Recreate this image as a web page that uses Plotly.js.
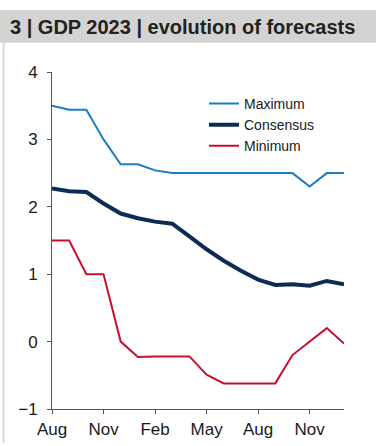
<!DOCTYPE html>
<html>
<head>
<meta charset="utf-8">
<script src="https://cdn.plot.ly/plotly-3.0.1.min.js"></script>
<style>
  html, body { margin: 0; padding: 0; background: #ffffff; }
  #chart { width: 377px; height: 446px; }
</style>
</head>
<body>
<div id="chart"></div>
<script>
// Monthly survey dates, Aug 2022 to Jan 2024
const months = ["Aug 22","Sep 22","Oct 22","Nov 22","Dec 22","Jan 23","Feb 23","Mar 23","Apr 23",
                "May 23","Jun 23","Jul 23","Aug 23","Sep 23","Oct 23","Nov 23","Dec 23","Jan 24"];

// GDP 2023 forecasts, % y/y
const maximum   = [3.5, 3.44, 3.44, 3.0, 2.63, 2.63, 2.54, 2.5, 2.5, 2.5, 2.5, 2.5, 2.5, 2.5, 2.5, 2.3, 2.5, 2.5];
const consensus = [2.27, 2.23, 2.22, 2.05, 1.9, 1.83, 1.78, 1.75, 1.56, 1.37, 1.2, 1.05, 0.92, 0.84, 0.85, 0.83, 0.9, 0.85];
const minimum   = [1.5, 1.5, 1.0, 1.0, 0.0, -0.23, -0.22, -0.22, -0.22, -0.49, -0.62, -0.62, -0.62, -0.62, -0.2, 0.0, 0.2, -0.03];

// Quarterly tick labels
const tickMonths = ["Aug 22","Nov 22","Feb 23","May 23","Aug 23","Nov 23"];
const tickLabels = ["Aug","Nov","Feb","May","Aug","Nov"];

const FONT = "Liberation Sans, Arial, sans-serif";

const traces = [
  { x: months, y: maximum,   name: "Maximum",   type: "scatter", mode: "lines",
    line: { color: "#1a7dc6", width: 2 } },
  { x: months, y: consensus, name: "Consensus", type: "scatter", mode: "lines",
    line: { color: "#0b2d55", width: 4 } },
  { x: months, y: minimum,   name: "Minimum",   type: "scatter", mode: "lines",
    line: { color: "#c8102e", width: 2 } }
];

const layout = {
  width: 377, height: 446,
  margin: { l: 52, r: 33, t: 72, b: 37 },
  paper_bgcolor: "#ffffff",
  plot_bgcolor: "#ffffff",
  font: { family: FONT, size: 17, color: "#1a1a1a" },
  showlegend: true,
  title: {
    text: "<b>3 | GDP 2023 | evolution of forecasts</b>",
    font: { family: FONT, size: 20, color: "#222222" },
    xref: "container", yref: "container",
    x: 10 / 377, xanchor: "left",
    y: 1 - 26.5 / 446, yanchor: "middle"
  },
  legend: {
    x: 0.5205, xanchor: "left",
    y: 0.953, yanchor: "top",
    bgcolor: "rgba(0,0,0,0)",
    font: { family: FONT, size: 14, color: "#1a1a1a" },
    tracegroupgap: 0
  },
  xaxis: {
    type: "category",
    range: [0, months.length - 1],
    tickvals: tickMonths,
    ticktext: tickLabels,
    ticks: "outside", ticklen: 4, tickcolor: "#555555",
    ticklabelstandoff: 1,
    showline: true, linecolor: "#555555", linewidth: 1,
    showgrid: false, zeroline: false,
    tickfont: { family: FONT, size: 17, color: "#1a1a1a" }
  },
  yaxis: {
    range: [-1, 4],
    dtick: 1,
    ticks: "outside", ticklen: 4, tickcolor: "#555555",
    ticklabelstandoff: 6,
    showline: true, linecolor: "#555555", linewidth: 1,
    showgrid: false, zeroline: false,
    tickfont: { family: FONT, size: 17, color: "#1a1a1a" }
  },
  shapes: [
    // grey heading band
    { type: "rect", xref: "paper", yref: "paper",
      x0: -52 / 292, x1: 324 / 292, y0: (409 - 42.7) / 337, y1: (409 - 10) / 337,
      fillcolor: "#d3d3d4", line: { width: 0 }, layer: "below" },
    // thin frame down the left side
    { type: "line", xref: "paper", yref: "paper",
      x0: -48.5 / 292, x1: -48.5 / 292, y0: (409 - 443) / 337, y1: (409 - 42.7) / 337,
      line: { color: "#d9d9d9", width: 2 } }
  ]
};

Plotly.newPlot("chart", traces, layout, { displayModeBar: false, staticPlot: true });
</script>
</body>
</html>
